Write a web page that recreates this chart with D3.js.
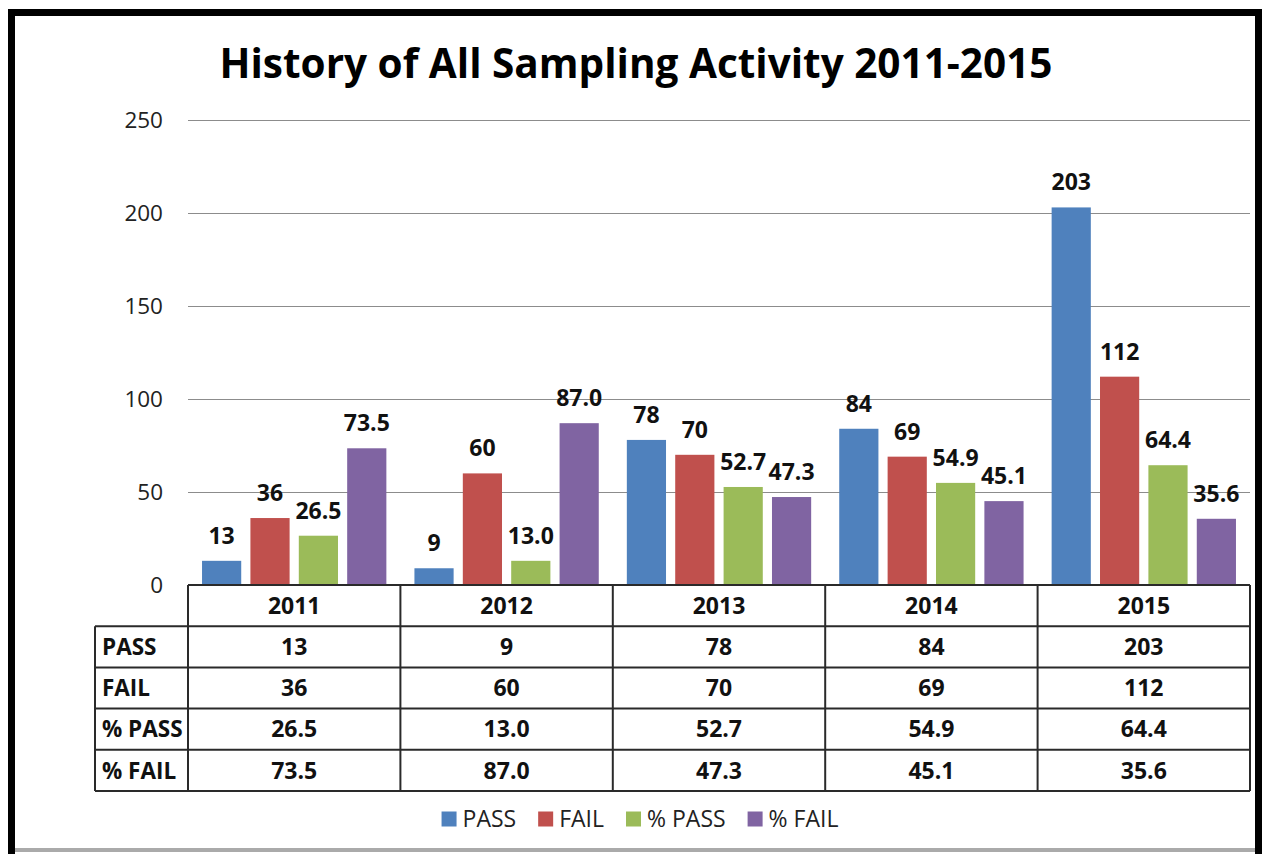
<!DOCTYPE html>
<html>
<head>
<meta charset="utf-8">
<script src="https://cdn.jsdelivr.net/npm/d3@7"></script>
<style>
  html, body { margin: 0; padding: 0; background: #fff; }
  svg { display: block; }
  text { font-family: "Open Sans", "DejaVu Sans", sans-serif; }
</style>
</head>
<body>
<svg id="chart" width="1263" height="854"></svg>
<script>
// ---- data ----
const years = ["2011", "2012", "2013", "2014", "2015"];
const seriesNames = ["PASS", "FAIL", "% PASS", "% FAIL"];
const passValues = [13, 9, 78, 84, 203];
const failValues = [36, 60, 70, 69, 112];
const pctPassValues = [26.5, 13.0, 52.7, 54.9, 64.4];
const pctFailValues = [73.5, 87.0, 47.3, 45.1, 35.6];
const yTicks = [0, 50, 100, 150, 200, 250];
const titleText = "History of All Sampling Activity 2011-2015";

const seriesValues = [passValues, failValues, pctPassValues, pctFailValues];
const seriesFormat = [d3.format("d"), d3.format("d"), d3.format(".1f"), d3.format(".1f")];
const colors = ["#4F81BD", "#C0504D", "#9BBB59", "#8064A2"];

const svg = d3.select("#chart");
const W = 1263, H = 854;

// background
svg.append("rect").attr("width", W).attr("height", H).attr("fill", "#fff");

// scales
const x0 = d3.scaleBand().domain(years).range([188, 1250]);
const x1 = d3.scaleBand().domain(seriesNames).range([0, x0.bandwidth()])
  .paddingInner(0.19).paddingOuter(0.29);
const y = d3.scaleLinear().domain([0, 250]).range([585, 120]);

// gridlines
svg.append("g").selectAll("line")
  .data(yTicks.filter(t => t > 0))
  .join("line")
  .attr("x1", 188).attr("x2", 1250)
  .attr("y1", d => Math.round(y(d)) + 0.5).attr("y2", d => Math.round(y(d)) + 0.5)
  .attr("stroke", "#8c8c8c").attr("stroke-width", 1);

// y axis labels
const yAxis = d3.axisLeft(y).tickValues(yTicks).tickSize(0).tickPadding(0);
const yg = svg.append("g").attr("transform", "translate(163,0)").call(yAxis);
yg.select(".domain").remove();
yg.selectAll("text")
  .attr("font-family", "'Open Sans', sans-serif")
  .attr("font-size", 22.5).attr("fill", "#222").attr("dy", "0.35em");

// bars
const groups = svg.append("g").selectAll("g")
  .data(years)
  .join("g")
  .attr("transform", d => `translate(${x0(d)},0)`);

groups.selectAll("rect")
  .data((d, i) => seriesNames.map((s, k) => ({ s, k, v: seriesValues[k][i] })))
  .join("rect")
  .attr("x", d => x1(d.s))
  .attr("width", x1.bandwidth())
  .attr("y", d => y(d.v))
  .attr("height", d => y(0) - y(d.v))
  .attr("fill", d => colors[d.k]);

groups.selectAll("text")
  .data((d, i) => seriesNames.map((s, k) => ({ s, k, v: seriesValues[k][i] })))
  .join("text")
  .attr("x", d => x1(d.s) + x1.bandwidth() / 2)
  .attr("y", d => y(d.v) - 17)
  .attr("text-anchor", "middle")
  .attr("font-size", 23).attr("font-weight", "bold").attr("fill", "#111")
  .text(d => seriesFormat[d.k](d.v));

// data table
const rowKeys = ["header"].concat(seriesNames);
const rowY = d3.scaleBand().domain(rowKeys).range([585, 791]);
const tableLeft = 95, tableRight = 1250;
const tg = svg.append("g");
const lineColor = "#2a2a2a";
const lw = 2;

// horizontal lines
tg.append("line").attr("x1", 188).attr("x2", tableRight)
  .attr("y1", rowY("header")).attr("y2", rowY("header"));
seriesNames.forEach(s => {
  tg.append("line").attr("x1", tableLeft).attr("x2", tableRight)
    .attr("y1", rowY(s)).attr("y2", rowY(s));
});
tg.append("line").attr("x1", tableLeft).attr("x2", tableRight)
  .attr("y1", rowY.range()[1]).attr("y2", rowY.range()[1]);
// vertical lines
tg.append("line").attr("x1", tableLeft).attr("x2", tableLeft)
  .attr("y1", rowY(seriesNames[0])).attr("y2", rowY.range()[1]);
years.forEach(yr => {
  tg.append("line").attr("x1", x0(yr)).attr("x2", x0(yr))
    .attr("y1", rowY("header")).attr("y2", rowY.range()[1]);
});
tg.append("line").attr("x1", tableRight).attr("x2", tableRight)
  .attr("y1", rowY("header")).attr("y2", rowY.range()[1]);
tg.selectAll("line").attr("stroke", lineColor).attr("stroke-width", lw);

// header text
tg.selectAll("text.hdr").data(years).join("text").attr("class", "hdr")
  .attr("x", d => x0(d) + x0.bandwidth() / 2)
  .attr("y", rowY("header") + rowY.bandwidth() / 2)
  .attr("dy", "0.36em").attr("text-anchor", "middle")
  .attr("font-size", 23).attr("font-weight", "bold").attr("fill", "#111")
  .text(d => d);

// row labels
tg.selectAll("text.rl").data(seriesNames).join("text").attr("class", "rl")
  .attr("x", 102)
  .attr("y", d => rowY(d) + rowY.bandwidth() / 2)
  .attr("dy", "0.36em")
  .attr("font-size", 22.5).attr("font-weight", "bold").attr("fill", "#111")
  .text(d => d);

// cells
seriesNames.forEach((s, k) => {
  tg.selectAll(`text.c${k}`).data(years).join("text").attr("class", `c${k}`)
    .attr("x", d => x0(d) + x0.bandwidth() / 2)
    .attr("y", rowY(s) + rowY.bandwidth() / 2)
    .attr("dy", "0.36em").attr("text-anchor", "middle")
    .attr("font-size", 23).attr("font-weight", "bold").attr("fill", "#111")
    .text((d, i) => seriesFormat[k](seriesValues[k][i]));
});

// legend
const lg = svg.append("g");
const items = lg.selectAll("g").data(seriesNames).join("g");
items.append("rect").attr("width", 15).attr("height", 15).attr("y", -7.5)
  .attr("fill", (d, i) => colors[i]);
items.append("text").attr("x", 21).attr("dy", "0.35em")
  .attr("font-size", 23).attr("fill", "#222").text(d => d);
let cx = 0;
const offs = [];
items.each(function () {
  offs.push(cx);
  const tw = d3.select(this).select("text").node().getComputedTextLength();
  cx += 21 + tw + 22;
});
const legendW = cx - 22;
const legendX = 640 - legendW / 2;
items.attr("transform", (d, i) => `translate(${legendX + offs[i]},819)`);

// title
const title = svg.append("text")
  .attr("x", 636).attr("y", 78).attr("text-anchor", "middle")
  .attr("font-size", 40).attr("font-weight", "bold").attr("fill", "#000")
  .text(titleText);
const tw = title.node().getComputedTextLength();
title.attr("font-size", 40 * 833 / tw);

// frame
svg.append("line").attr("x1", 11.5).attr("x2", 11.5).attr("y1", 9).attr("y2", 854)
  .attr("stroke", "#000").attr("stroke-width", 7);
svg.append("line").attr("x1", 8).attr("x2", 1262).attr("y1", 12.5).attr("y2", 12.5)
  .attr("stroke", "#000").attr("stroke-width", 7);
svg.append("line").attr("x1", 1258.5).attr("x2", 1258.5).attr("y1", 9).attr("y2", 854)
  .attr("stroke", "#000").attr("stroke-width", 7);
svg.append("line").attr("x1", 15).attr("x2", 1255).attr("y1", 850).attr("y2", 850)
  .attr("stroke", "#aaa").attr("stroke-width", 4);
</script>
</body>
</html>
